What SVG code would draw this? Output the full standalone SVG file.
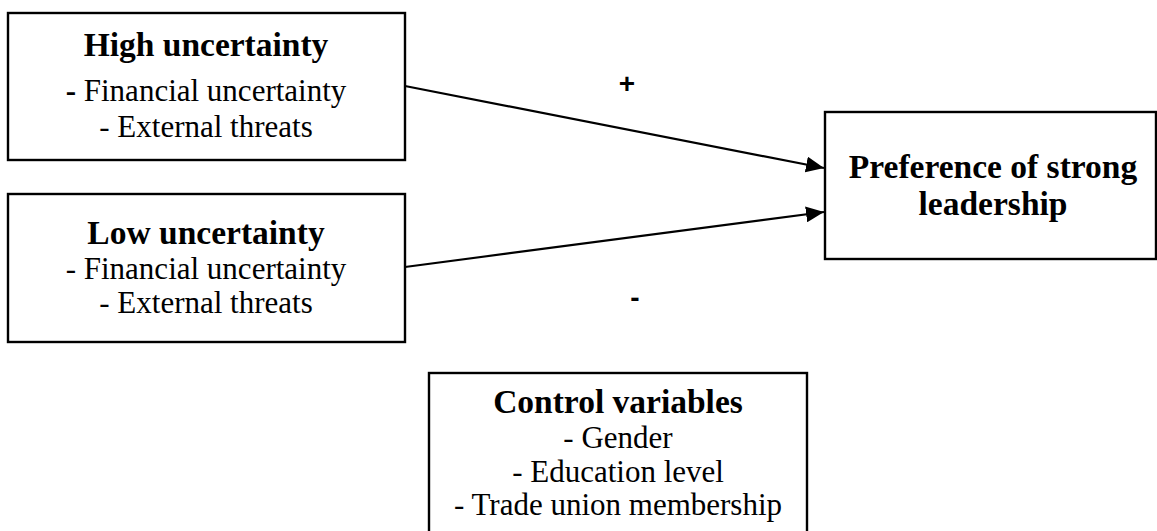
<svg xmlns="http://www.w3.org/2000/svg" width="1157" height="531" viewBox="0 0 1157 531">
<style>
.box{fill:#fff;stroke:#000;stroke-width:2.4}
.t{font-family:"Liberation Serif","Times New Roman",serif;text-anchor:middle;fill:#000}
.h{font-weight:bold;font-size:33.5px}
.r{font-size:31px}
.s{font-family:"Liberation Sans",Arial,sans-serif;text-anchor:middle;fill:#000;font-size:28px;font-weight:bold}
.c{stroke:#000;stroke-width:2.2;fill:none}
</style>
<defs>
<marker id="ah" markerUnits="userSpaceOnUse" markerWidth="20" markerHeight="16" refX="18" refY="8" orient="auto">
<path d="M0,0 L18,8 L0,16 Z" fill="#000"/>
</marker>
</defs>
<rect width="1157" height="531" fill="#fff"/>
<g id="connectors">
<line class="c" x1="405" y1="86" x2="824" y2="168" marker-end="url(#ah)"/>
<line class="c" x1="405" y1="267" x2="824" y2="212" marker-end="url(#ah)"/>
<text class="s" x="627" y="93">+</text>
<text class="s" x="635" y="307">-</text>
</g>
<g id="high">
<rect class="box" x="8" y="13" width="397" height="147"/>
<text class="t h" x="206" y="56">High uncertainty</text>
<text class="t r" x="206" y="101"><tspan font-weight="bold">-</tspan> Financial uncertainty</text>
<text class="t r" x="206" y="137">- External threats</text>
</g>
<g id="low">
<rect class="box" x="8" y="194" width="397" height="148"/>
<text class="t h" x="206" y="244">Low uncertainty</text>
<text class="t r" x="206" y="279">- Financial uncertainty</text>
<text class="t r" x="206" y="313">- External threats</text>
</g>
<g id="preference">
<rect class="box" x="825" y="112" width="331" height="147"/>
<text class="t h" x="993" y="178">Preference of strong</text>
<text class="t h" x="993" y="215">leadership</text>
</g>
<g id="control">
<rect class="box" x="429" y="373" width="378" height="162"/>
<text class="t h" x="618" y="413">Control variables</text>
<text class="t r" x="618" y="448">- Gender</text>
<text class="t r" x="618" y="482">- Education level</text>
<text class="t r" x="618" y="515">- Trade union membership</text>
</g>
</svg>
